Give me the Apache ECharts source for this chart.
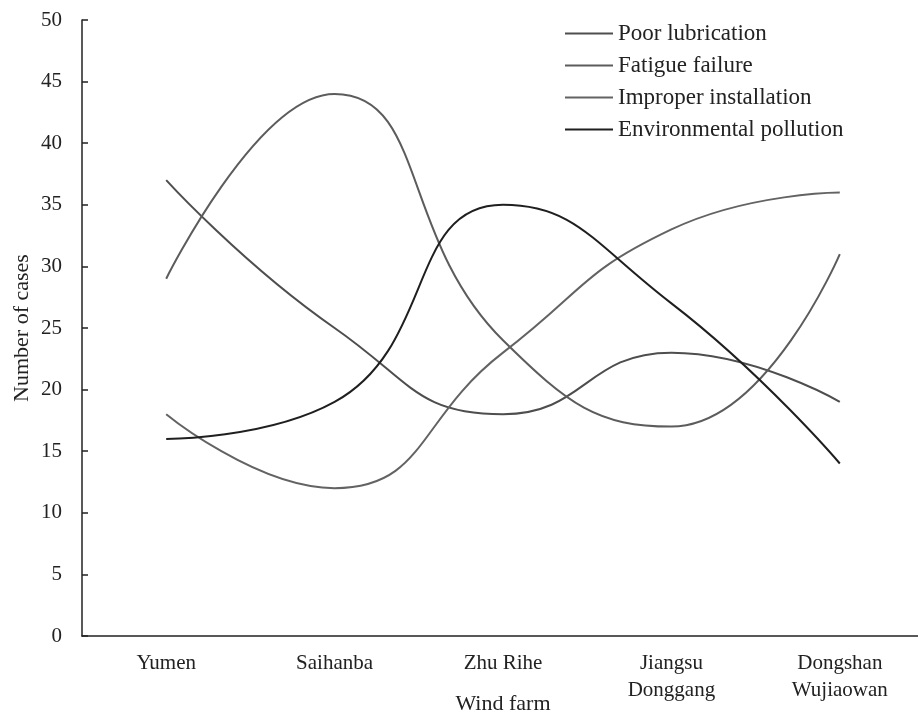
<!DOCTYPE html>
<html>
<head>
<meta charset="utf-8">
<script src="https://cdn.jsdelivr.net/npm/echarts@6/dist/echarts.min.js"></script>
<style>
html,body{margin:0;padding:0;background:#fff;}
#chart{width:918px;height:716px;}
</style>
</head>
<body>
<div id="chart"></div>
<script>
var categories = ['Yumen', 'Saihanba', 'Zhu Rihe', 'Jiangsu\nDonggang', 'Dongshan\nWujiaowan'];
var poorLubrication = [37, 25, 18, 23, 19];
var fatigueFailure = [29, 44, 24, 17, 31];
var improperInstallation = [18, 12, 23, 33, 36];
var environmentalPollution = [16, 19, 35, 27, 14];
var seriesNames = ['Poor lubrication', 'Fatigue failure', 'Improper installation', 'Environmental pollution'];
var seriesColors = ['#4e4e4e', '#5c5c5c', '#636363', '#1f1f1f'];

var font = "'Liberation Serif', 'Times New Roman', serif";
var chart = echarts.init(document.getElementById('chart'));
var dataSets = [poorLubrication, fatigueFailure, improperInstallation, environmentalPollution];
var series = dataSets.map(function (d, i) {
  return {
    name: seriesNames[i],
    type: 'line',
    data: d,
    smooth: 0.5,
    symbol: 'none',
    lineStyle: { color: seriesColors[i], width: 2 },
    itemStyle: { color: seriesColors[i] }
  };
});
chart.setOption({
  backgroundColor: '#ffffff',
  animation: false,
  textStyle: { fontFamily: font, color: '#222' },
  grid: { left: 82, right: -6, top: 20, bottom: 80, containLabel: false, outerBoundsMode: 'none' },
  legend: {
    orient: 'vertical',
    left: 560,
    top: 17,
    icon: 'rect',
    itemWidth: 48,
    itemHeight: 2,
    itemGap: 9,
    textStyle: { fontFamily: font, fontSize: 23, color: '#222', lineHeight: 23 },
    data: seriesNames
  },
  xAxis: {
    type: 'category',
    data: categories,
    boundaryGap: true,
    name: 'Wind farm',
    nameLocation: 'middle',
    nameGap: 57,
    nameMoveOverlap: false,
    nameTextStyle: { fontFamily: font, fontSize: 22, color: '#222' },
    axisLine: { lineStyle: { color: '#222', width: 1.5 } },
    axisTick: { inside: true, length: 6, lineStyle: { color: '#222', width: 1.5 } },
    axisLabel: { fontFamily: font, fontSize: 21, color: '#222', margin: 14, lineHeight: 27, interval: 0 }
  },
  yAxis: {
    type: 'value',
    min: 0,
    max: 50,
    interval: 5,
    name: 'Number of cases',
    nameLocation: 'middle',
    nameGap: 49,
    nameMoveOverlap: false,
    nameTextStyle: { fontFamily: font, fontSize: 22, color: '#222' },
    splitLine: { show: false },
    axisLine: { show: true, lineStyle: { color: '#222', width: 1.5 } },
    axisTick: { show: true, inside: true, length: 6, lineStyle: { color: '#222', width: 1.5 } },
    axisLabel: { fontFamily: font, fontSize: 21, color: '#222', margin: 20 }
  },
  series: series
});
</script>
</body>
</html>
